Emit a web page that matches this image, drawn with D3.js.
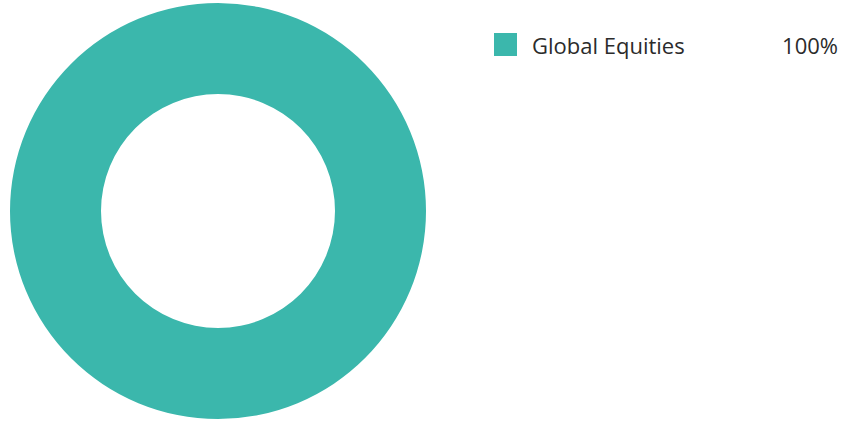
<!DOCTYPE html>
<html>
<head>
<meta charset="utf-8">
<script src="https://cdn.jsdelivr.net/npm/d3@7"></script>
<style>
  html, body { margin: 0; padding: 0; background: #fff; }
  svg { display: block; }
</style>
</head>
<body>
<svg id="chart" width="844" height="421"></svg>
<script>
// data
var categories = ["Global Equities"];
var values = [100];
var labels = ["100%"];
var colours = ["#3bb7ac"];

var svg = d3.select("#chart");

// donut
var cx = 218, cy = 211;
var pie = d3.pie().sort(null).value(function (d) { return d; });
var arc = d3.arc().innerRadius(117).outerRadius(208);

var g = svg.append("g").attr("transform", "translate(" + cx + "," + cy + ")");
g.selectAll("path")
  .data(pie(values))
  .enter().append("path")
  .attr("d", arc)
  .attr("fill", function (d, i) { return colours[i]; });

// legend
var y = d3.scaleBand().domain(categories).range([33, 33 + 23 * categories.length]);

var legend = svg.append("g")
  .style("font-family", "'Open Sans', 'Noto Sans', sans-serif")
  .style("font-size", "22px")
  .attr("fill", "#2b2b2b");

var rows = legend.selectAll("g.row")
  .data(categories)
  .enter().append("g")
  .attr("class", "row")
  .attr("transform", function (d) { return "translate(0," + y(d) + ")"; });

rows.append("rect")
  .attr("x", 494)
  .attr("width", 23)
  .attr("height", 23)
  .attr("fill", function (d, i) { return colours[i]; });

rows.append("text")
  .attr("x", 532)
  .attr("y", 21)
  .text(function (d) { return d; });

rows.append("text")
  .attr("x", 838)
  .attr("y", 21)
  .attr("text-anchor", "end")
  .text(function (d, i) { return labels[i]; });
</script>
</body>
</html>
